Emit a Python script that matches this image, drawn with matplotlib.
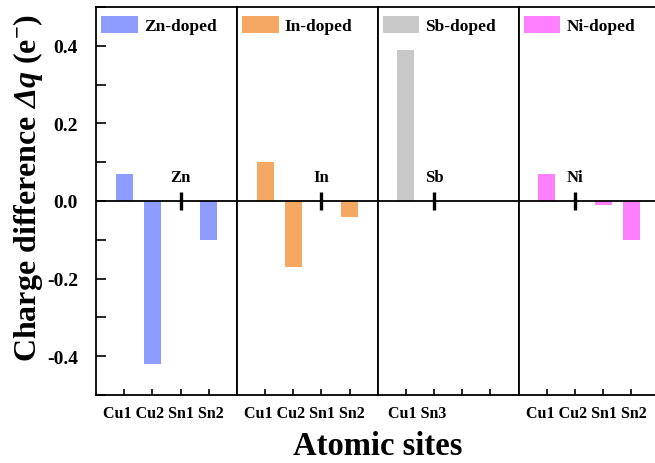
import matplotlib
matplotlib.use("Agg")
import matplotlib.pyplot as plt
import matplotlib.transforms as mtransforms
from matplotlib.ticker import MultipleLocator

plt.rcParams['font.family'] = ['Liberation Serif', 'DejaVu Serif']
plt.rcParams['font.weight'] = 'bold'
plt.rcParams['mathtext.fontset'] = 'custom'
plt.rcParams['mathtext.rm'] = 'Liberation Serif:bold'
plt.rcParams['mathtext.it'] = 'Liberation Serif:italic:bold'
plt.rcParams['mathtext.bf'] = 'Liberation Serif:bold'
plt.rcParams['mathtext.cal'] = 'Liberation Serif:italic:bold'

# Charge difference per atomic site for each dopant
zn_sites = ['Cu1', 'Cu2', 'Sn1', 'Sn2']
zn_values = [0.07, -0.42, 0.0, -0.10]
in_sites = ['Cu1', 'Cu2', 'Sn1', 'Sn2']
in_values = [0.10, -0.17, 0.0, -0.04]
sb_sites = ['Cu1', 'Sn3']
sb_values = [0.39, 0.0]
ni_sites = ['Cu1', 'Cu2', 'Sn1', 'Sn2']
ni_values = [0.07, 0.0, -0.01, -0.10]

dopants = ['Zn', 'In', 'Sb', 'Ni']
legend_labels = ['Zn-doped', 'In-doped', 'Sb-doped', 'Ni-doped']
substituted_site = ['Sn1', 'Sn1', 'Sn3', 'Cu2']

panels = [(zn_sites, zn_values), (in_sites, in_values),
          (sb_sites, sb_values), (ni_sites, ni_values)]
colors = ['#8E9CFF', '#F5A862', '#C8C8C8', '#FF80FF']

W, H = 655, 464
fig = plt.figure(figsize=(W / 100, H / 100), dpi=100)
left, right = 96 / W, 659.5 / W
top, bottom = 1 - 8 / H, 1 - 396 / H
gs = fig.add_gridspec(1, 4, left=left, right=right, top=top, bottom=bottom, wspace=0)
axes = [fig.add_subplot(gs[0, i]) for i in range(4)]

for i, ax in enumerate(axes):
    sites, vals = panels[i]
    pos = list(range(1, len(sites) + 1))
    ax.bar(pos, vals, width=0.6, color=colors[i], linewidth=0, label=legend_labels[i])
    ax.axhline(0, color='black', lw=1.3, zorder=3)

    # dopant marker at the substituted site
    xm = pos[sites.index(substituted_site[i])]
    ax.plot([xm, xm], [-0.024, 0.024], color='black', lw=2.4, solid_capstyle='butt', zorder=4)
    ax.text(xm, 0.04, dopants[i], ha='center', va='bottom', fontsize=12, fontweight='bold')

    ax.set_xlim(0, 5)
    ax.set_ylim(-0.5, 0.5)
    ax.set_xticks([1, 2, 3, 4])
    ax.set_xticklabels([])
    ax.tick_params(axis='x', direction='in', length=4, width=1.2)
    # site names written as one line under each panel
    trans = mtransforms.blended_transform_factory(ax.transData, ax.transAxes)
    ax.text(sum(pos) / len(pos) - 0.1, -0.026, ' '.join(sites), transform=trans,
            ha='center', va='top', fontsize=11.5, fontweight='bold')
    for sp in ax.spines.values():
        sp.set_linewidth(1.3)

    if i == 0:
        ax.yaxis.set_major_locator(MultipleLocator(0.2))
        ax.yaxis.set_minor_locator(MultipleLocator(0.1))
        ax.tick_params(axis='y', which='both', direction='in', length=7, width=1.2, pad=13,
                       labelsize=14)
        ax.set_yticks([-0.4, -0.2, 0.0, 0.2, 0.4])
        ax.set_yticklabels(['-0.4', '-0.2', '0.0', '0.2', '0.4'], fontweight='bold')
        ax.set_ylabel(r'Charge difference $\mathcal{Δ}\mathit{q}$ (e$^{\mathbf{-}}$)',
                      fontsize=23, fontweight='bold')
        ax.yaxis.set_label_coords(-0.36, 0.535)
    else:
        ax.tick_params(axis='y', which='both', left=False, labelleft=False)

    ax.legend(loc='upper left', bbox_to_anchor=(0.0, 0.99), frameon=False,
              handlelength=2.1, handleheight=1.1, handletextpad=0.35, borderpad=0.0,
              borderaxespad=0.3, prop={'weight': 'bold', 'size': 12.5})

fig.text((left + right) / 2, 1 - 447 / H, 'Atomic sites', ha='center', va='center',
         fontsize=23.5, fontweight='bold')

fig.savefig('out.png', dpi=100)
